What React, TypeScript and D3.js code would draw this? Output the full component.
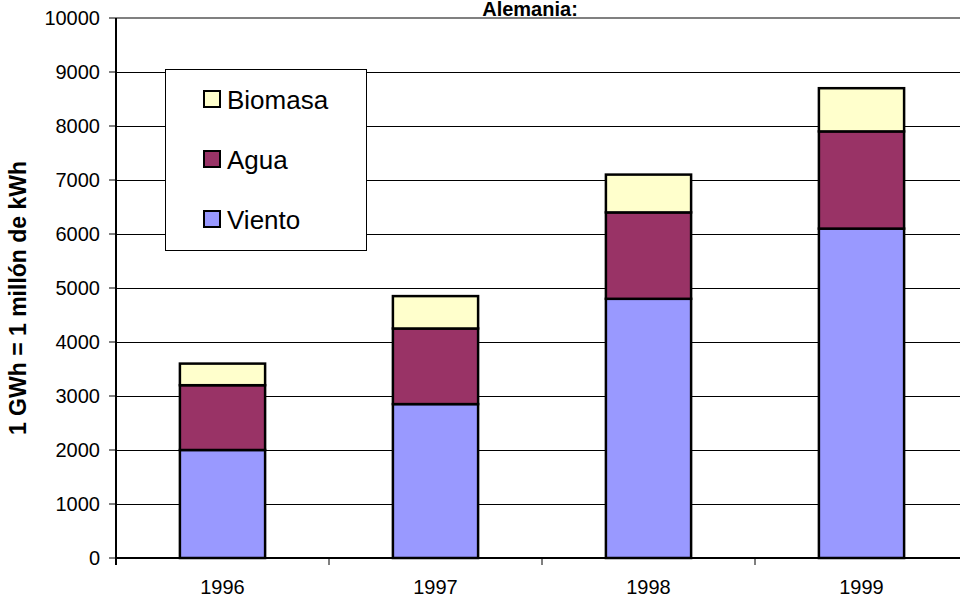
import React from "react";
import * as d3 from "d3";

const years = ["1996", "1997", "1998", "1999"];
const viento = [2000, 2850, 4800, 6100];
const agua = [1200, 1400, 1600, 1800];
const biomasa = [400, 600, 700, 800];
const seriesNames = ["Viento", "Agua", "Biomasa"];
const seriesColors = ["#9999FF", "#993366", "#FFFFCC"];
const yTicks = [0, 1000, 2000, 3000, 4000, 5000, 6000, 7000, 8000, 9000, 10000];
const title = "Alemania:";
const yLabel = "1 GWh = 1 millón de kWh";

export default function App() {
  const W = 960, H = 598;
  const left = 116, right = 968, top = 18, bottom = 558;
  const x = d3.scaleBand<string>().domain(years).range([left, right]).paddingInner(0.6).paddingOuter(0.3);
  const y = d3.scaleLinear().domain([0, 10000]).range([bottom, top]);
  const rows = years.map((yr, i) => ({ year: yr, Viento: viento[i], Agua: agua[i], Biomasa: biomasa[i] }));
  const stack = d3.stack<any>().keys(seriesNames)(rows);
  const step = x.step();
  const boundaries = years.map((_, i) => left + i * step);
  const font = "Arial, 'Liberation Sans', sans-serif";
  const legendItems = [2, 1, 0];

  return (
    <svg width={W} height={H} style={{ position: "absolute", left: 0, top: 0, background: "#fff" }} fontFamily={font}>
      <rect x={0} y={0} width={W} height={H} fill="#fff" />
      {yTicks.filter(t => t > 0 && t < 10000).map(t => (
        <line key={t} x1={left} x2={W} y1={Math.round(y(t)) + 0.5} y2={Math.round(y(t)) + 0.5} stroke="#000" strokeWidth={1} />
      ))}
      <line x1={left} x2={W} y1={y(10000)} y2={y(10000)} stroke="#808080" strokeWidth={2} />
      {stack.map((s, si) => (
        <g key={s.key}>
          {s.map((d, i) => (
            <rect key={i} x={x(years[i])!} y={y(d[1])} width={x.bandwidth()} height={y(d[0]) - y(d[1])}
              fill={seriesColors[si]} stroke="#000" strokeWidth={2.5} />
          ))}
        </g>
      ))}
      <line x1={left} x2={W} y1={bottom} y2={bottom} stroke="#000" strokeWidth={2} />
      <line x1={left} x2={left} y1={top} y2={bottom + 7} stroke="#000" strokeWidth={2} />
      {yTicks.map(t => (
        <g key={t}>
          <line x1={left - 7} x2={left} y1={y(t)} y2={y(t)} stroke="#000" strokeWidth={1} />
          <text x={100} y={y(t)} dy="0.35em" textAnchor="end" fontSize={20} fill="#000">{t}</text>
        </g>
      ))}
      {boundaries.map((b, i) => (
        <line key={i} x1={b} x2={b} y1={bottom} y2={bottom + 7} stroke="#000" strokeWidth={1} />
      ))}
      {years.map(yr => (
        <text key={yr} x={x(yr)! + x.bandwidth() / 2} y={594} textAnchor="middle" fontSize={20} fill="#000">{yr}</text>
      ))}
      <text x={530} y={16} textAnchor="middle" fontSize={20} fontWeight="bold" fill="#000">{title}</text>
      <text transform={`translate(26,${298}) rotate(-90)`} textAnchor="middle" fontSize={23} fontWeight="bold" fill="#000">{yLabel}</text>
      <rect x={165.5} y={69.5} width={201} height={181} fill="#fff" stroke="#000" strokeWidth={1} />
      {legendItems.map((si, k) => (
        <g key={si} transform={`translate(0,${k * 60})`}>
          <rect x={204} y={91} width={16} height={16} fill={seriesColors[si]} stroke="#000" strokeWidth={2} />
          <text x={227} y={109} fontSize={26} fill="#000">{seriesNames[si]}</text>
        </g>
      ))}
    </svg>
  );
}
